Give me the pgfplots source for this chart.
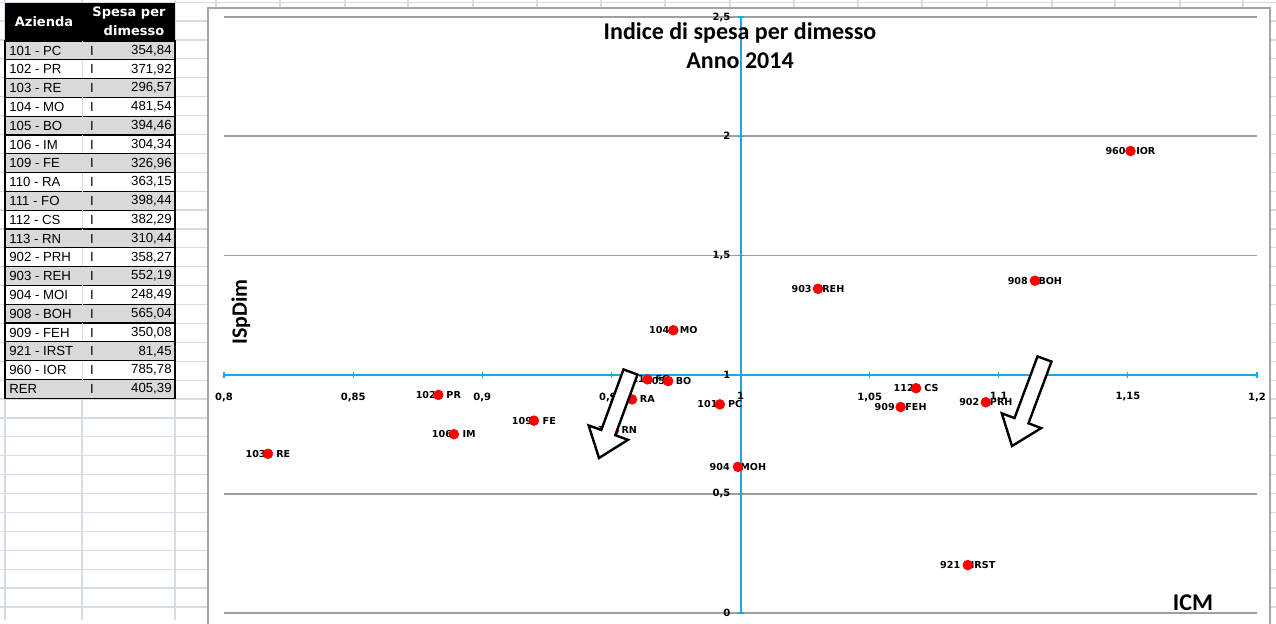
\documentclass[border=0pt]{standalone}
\usepackage{fontspec}
\setmainfont{Carlito}
\newfontfamily\dv{DejaVu Sans}
\newfontfamily\ls{Liberation Sans}
\usepackage{pgfplots}
\usepackage{pgfplotstable}
\pgfplotsset{compat=1.18}
\definecolor{asse}{RGB}{30,165,230}
\definecolor{foglio}{RGB}{212,219,233}
\definecolor{righe}{RGB}{217,217,217}

% ICM, ISpDim
\pgfplotstableread[col sep=comma]{
icm,isp,lab
0.992,0.875,101 - PC
0.883,0.915,102 - PR
0.817,0.668,103 - RE
0.974,1.186,104 - MO
0.972,0.973,105 - BO
0.889,0.750,106 - IM
0.920,0.807,109 - FE
0.958,0.896,110 - RA
0.964,0.980,111 - FO
1.068,0.943,112 - CS
0.951,0.766,113 - RN
1.095,0.884,902 - PRH
1.030,1.360,903 - REH
0.999,0.613,904 - MOH
1.114,1.394,908 - BOH
1.062,0.864,909 - FEH
1.088,0.201,921 - IRST
1.151,1.938,960 - IOR
}\dati

\begin{document}
\begin{tikzpicture}
\begin{scope}[x=0.5pt,y=-0.5pt]
\path[use as bounding box] (0,0) rectangle (1276,620);
% griglia del foglio
\foreach \k in {0,...,33}{
  \draw[foglio,line width=0.6pt] (0,2.1+18.9*\k) -- (1276,2.1+18.9*\k);
}
\foreach \xx in {5,82,175,216,280,345,408,473,537,601,665,730,794,858,922,987,1052,1115,1180,1243}{
  \draw[foglio,line width=0.6pt] (\xx,0) -- (\xx,620);
}
% area del grafico
\draw[gray!70,line width=0.8pt,fill=white] (208,8) rectangle (1270,650);
% tabella
\fill[black] (5,3) rectangle (175,41);
\node[text=white,font=\dv\bfseries\fontsize{6.5}{7}\selectfont] at (44,22) {Azienda};
\node[text=white,font=\dv\bfseries\fontsize{6.5}{7}\selectfont] at (129,13) {Spesa per};
\node[text=white,font=\dv\bfseries\fontsize{6.5}{7}\selectfont] at (134,31) {dimesso};
\foreach \n/\v [count=\i from 0] in {101 - PC/354{,}84,102 - PR/371{,}92,103 - RE/296{,}57,104 - MO/481{,}54,105 - BO/394{,}46,106 - IM/304{,}34,109 - FE/326{,}96,110 - RA/363{,}15,111 - FO/398{,}44,112 - CS/382{,}29,113 - RN/310{,}44,902 - PRH/358{,}27,903 - REH/552{,}19,904 - MOI/248{,}49,908 - BOH/565{,}04,909 - FEH/350{,}08,921 - IRST/81{,}45,960 - IOR/785{,}78,RER/405{,}39}{
  \pgfmathsetmacro\ya{41+18.8*\i}
  \pgfmathsetmacro\yb{\ya+18.8}
  \ifodd\i\def\cf{white}\else\def\cf{righe}\fi
  \draw[black,line width=0.6pt,fill=\cf] (5,\ya) rectangle (175,\yb);
  \draw[foglio,line width=0.5pt] (82,\ya) -- (82,\yb);
  \node[anchor=west,font=\ls\fontsize{6.6}{7}\selectfont,inner sep=0pt] at (9,\ya+9.6) {\n};
  \node[font=\ls\fontsize{6.6}{7}\selectfont,inner sep=0pt] at (92,\ya+9.6) {I};
  \node[anchor=east,font=\ls\fontsize{6.6}{7}\selectfont,inner sep=0pt] at (172,\ya+9.6) {\v};
}
\end{scope}

\begin{axis}[
  at={(112pt,-306.5pt)},anchor=south west,
  scale only axis,width=516.5pt,height=298pt,
  xmin=-0.2,xmax=0.2,ymin=-1,ymax=1.5,
  axis lines=middle,axis line style={asse,line width=1pt,-},
  xtick={-0.2,-0.15,-0.1,-0.05,0,0.05,0.1,0.15,0.2},
  xticklabels={{0,8},{0,85},{0,9},{0,95},{1},{1,05},{1,1},{1,15},{1,2}},
  ytick={-1,-0.5,0,0.5,1,1.5},
  yticklabels={{0},{0,5},{1},{1,5},{2},{2,5}},
  hide obscured x ticks=false,hide obscured y ticks=false,
  ymajorgrids,grid style={gray!75,line width=0.75pt},
  tick style={asse,line width=0.6pt},major tick length=3pt,
  ticklabel style={font=\dv\bfseries\fontsize{5}{6}\selectfont,text=black},
  xticklabel style={yshift=-4pt},
  clip=false,
]
\addplot[draw=none,nodes near coords,point meta=explicit symbolic,
  nodes near coords style={anchor=center,inner sep=0pt,text=black,
    font=\dv\bfseries\fontsize{4.8}{5}\selectfont}]
  table[x expr=\thisrow{icm}-1,y expr=\thisrow{isp}-1,meta=lab]{\dati};
\addplot[only marks,mark=*,mark size=2.4pt,color=red]
  table[x expr=\thisrow{icm}-1,y expr=\thisrow{isp}-1]{\dati};
\end{axis}

\begin{scope}[x=0.5pt,y=-0.5pt]
\node[font=\bfseries\fontsize{12}{14}\selectfont] at (740,33) {Indice di spesa per dimesso};
\node[font=\bfseries\fontsize{12}{14}\selectfont] at (740,61) {Anno 2014};
\node[font=\bfseries\fontsize{11}{13}\selectfont,rotate=90] at (241,312) {ISpDim};
\node[font=\bfseries\fontsize{12}{14}\selectfont] at (1193,603) {ICM};
% frecce
\draw[black,line width=1.2pt,fill=white,line join=miter]
  (637.5,374.6) -- (615.3,435.2) -- (628.0,439.8) -- (599,458) -- (588.6,425.4) -- (601.3,430.0) -- (623.5,369.4) -- cycle;
\draw[black,line width=1.2pt,fill=white,line join=miter]
  (1051.5,361.6) -- (1028.5,423.3) -- (1041.2,428.1) -- (1012,446) -- (1001.8,413.3) -- (1014.5,418.1) -- (1037.5,356.4) -- cycle;
\end{scope}
\end{tikzpicture}
\end{document}
